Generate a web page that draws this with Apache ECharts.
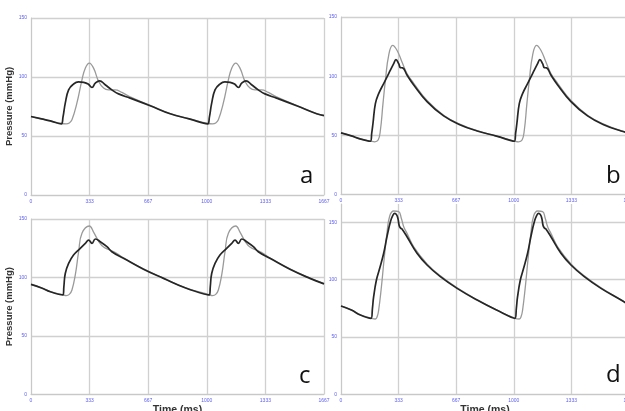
<!DOCTYPE html>
<html><head><meta charset="utf-8">
<script src="https://cdn.jsdelivr.net/npm/echarts@6/dist/echarts.min.js"></script>
<style>html,body{margin:0;padding:0;background:#fff}#c{width:625px;height:411px}</style>
</head><body><div id="c"></div>
<script>
// Tick labels
const xTickLabels = ['0', '333', '667', '1000', '1333', '1667'];
const yTickValues = [0, 50, 100, 150];
const panelLetters = ['a', 'b', 'c', 'd'];
const panelYMax = [150, 150, 150, 166];

// Panel a: [time ms, pressure mmHg]
const aGrey = [[0,66.5],[60,64.5],[110,62.8],[172,60.6],[200,60.2],[218,61],[233,63.7],[261,77.8],[290,97.6],[309,107.5],[332,111.8],[356,107.5],[385,96.2],[413,90.6],[441,89.1],[479,89.1],[517,86.9],[564,83.2],[678,76],[792,69],[900,64.6],[1005,60.6],
  [1033,60.2],[1051,61],[1066,63.7],[1094,77.8],[1123,97.6],[1142,107.5],[1165,111.8],[1189,107.5],[1218,96.2],[1246,90.6],[1274,89.1],[1312,89.1],[1350,86.9],[1397,83.2],[1511,76],[1625,69],[1667,67.4]];
const aBlack = [[0,66.5],[60,64.5],[110,62.8],[172,60.3],[182,66],[195,77.8],[214,89.1],[242,94],[270,95.8],[300,95.4],[325,94],[347,91.1],[366,94.8],[390,96.8],[422,93.4],[460,89.1],[498,85.7],[564,82.1],[678,75.6],[792,68.8],[900,64.5],
  [1005,60.3],[1015,66],[1028,77.8],[1047,89.1],[1075,94],[1103,95.8],[1133,95.4],[1158,94],[1180,91.1],[1199,94.8],[1223,96.8],[1255,93.4],[1293,89.1],[1331,85.7],[1397,82.1],[1511,75.6],[1625,68.8],[1667,67.2]];

// Panel b
const bGrey = [[0,52.1],[60,49.5],[110,47],[170,45.2],[195,44.5],[215,46],[228,54.3],[243,76.8],[257,96.5],[276,117.6],[299,126],[324,121.9],[353,112],[382,102.2],[421,94],[498,79.5],[594,67],[691,59.2],[788,53.9],[900,49.4],[1003,45.2],
  [1028,44.5],[1048,46],[1061,54.3],[1076,76.8],[1090,96.5],[1109,117.6],[1132,126],[1157,121.9],[1186,112],[1215,102.2],[1254,94],[1331,79.5],[1427,67],[1524,59.2],[1621,53.9],[1667,52.2]];
const bBlack = [[0,52.1],[60,49.5],[110,47],[170,45],[178,52],[185,60],[199,76.8],[218,85.2],[247,93.7],[276,102.2],[305,110.6],[318,114],[334,110.6],[344,107.2],[357,107],[382,101],[421,92.6],[498,78.5],[594,66.4],[691,58.8],[788,53.7],[900,49.3],
  [1003,45],[1011,52],[1018,60],[1032,76.8],[1051,85.2],[1080,93.7],[1109,102.2],[1138,110.6],[1151,114],[1167,110.6],[1177,107.2],[1190,107],[1215,101],[1254,92.6],[1331,78.5],[1427,66.4],[1524,58.8],[1621,53.7],[1667,52]];

// Panel c
const cGrey = [[0,94.1],[60,91],[110,87.8],[180,85.3],[200,84.5],[218,85.5],[233,89.3],[252,102.1],[271,122],[290,137.7],[332,144],[356,138.8],[385,130.9],[413,126],[451,123.3],[489,120.5],[526,116.8],[640,107.3],[754,99.4],[880,91.1],[1013,85.3],
  [1033,84.5],[1051,85.5],[1066,89.3],[1085,102.1],[1104,122],[1123,137.7],[1165,144],[1189,138.8],[1218,130.9],[1246,126],[1284,123.3],[1322,120.5],[1359,116.8],[1473,107.3],[1587,99.4],[1667,94.7]];
const cBlack = [[0,94.1],[60,91],[110,87.8],[182,85],[187,92],[195,103.4],[214,112],[242,119.2],[280,124.9],[309,129.2],[328,132],[347,129.2],[366,132.9],[394,130.6],[432,126.3],[460,122],[526,116.4],[640,107],[754,99.2],[880,91],
  [1015,85],[1020,92],[1028,103.4],[1047,112],[1075,119.2],[1113,124.9],[1142,129.2],[1161,132],[1180,129.2],[1199,132.9],[1227,130.6],[1265,126.3],[1293,122],[1359,116.4],[1473,107],[1587,99.2],[1667,94.5]];

// Panel d
const dGrey = [[0,77.2],[60,73.6],[112,69.3],[172,66.5],[199,65.7],[210,68],[218,73.5],[232,91],[251,120],[266,140.4],[282,155.5],[305,159.9],[334,159.3],[349,153.5],[363,146.2],[382,140.4],[421,128.7],[498,113.8],[575,103.3],[672,92.8],[788,82.4],[900,73.6],[1005,66.5],
  [1032,65.7],[1043,68],[1051,73.5],[1065,91],[1084,120],[1099,140.4],[1115,155.5],[1138,159.9],[1167,159.3],[1182,153.5],[1196,146.2],[1215,140.4],[1254,128.7],[1331,113.8],[1408,103.3],[1505,92.8],[1621,82.4],[1667,78.2]];
const dBlack = [[0,77],[60,73.5],[112,69.2],[174,66.3],[182,75],[189,85.1],[205,99.7],[224,109.9],[247,123],[266,137.4],[286,150.5],[300,156],[311,157.8],[322,156.5],[330,153],[337,147],[345,145],[353,144.2],[382,137.4],[440,123],[498,112.8],[575,102.6],[672,92.4],[788,82.2],[900,73.5],
  [1007,66.3],[1015,75],[1022,85.1],[1038,99.7],[1057,109.9],[1080,123],[1099,137.4],[1119,150.5],[1133,156],[1144,157.8],[1155,156.5],[1163,153],[1170,147],[1178,145],[1186,144.2],[1215,137.4],[1273,123],[1331,112.8],[1408,102.6],[1505,92.4],[1621,82.2],[1667,78]];

const greySeries = [aGrey, bGrey, cGrey, dGrey];
const blackSeries = [aBlack, bBlack, cBlack, dBlack];

const grids = [
  {left: 31, top: 18, width: 293, height: 177},
  {left: 341, top: 17, width: 288, height: 177.5},
  {left: 31, top: 219, width: 293, height: 175.3},
  {left: 341, top: 204, width: 288, height: 190.3}
];
const xStep = 1667 / 5;
const tickColor = '#5d5df2';
const gridColor = '#d0d0d0';

const xAxes = grids.map((g, i) => ({
  type: 'value', gridIndex: i, min: 0, max: 1667, interval: xStep,
  axisLine: {show: true, lineStyle: {color: '#c8c8c8', width: 1}},
  axisTick: {show: false},
  splitLine: {show: true, lineStyle: {color: gridColor, width: 1.3}},
  axisLabel: {color: tickColor, fontSize: 5, margin: 4, fontFamily: 'Liberation Sans', hideOverlap: false,
    formatter: v => xTickLabels[Math.round(v / xStep)]},
  name: i >= 2 ? 'Time (ms)' : '', nameLocation: 'middle', nameGap: 10.5,
  nameTextStyle: {color: '#333', fontSize: 10.5, fontFamily: 'Liberation Sans', fontWeight: 'bold'}
}));
const yAxes = grids.map((g, i) => ({
  type: 'value', gridIndex: i, min: 0, max: panelYMax[i], interval: 50,
  axisLine: {show: true, lineStyle: {color: '#c8c8c8', width: 1}},
  axisTick: {show: false},
  splitLine: {show: true, showMaxLine: i !== 3, lineStyle: {color: gridColor, width: 1.3}},
  axisLabel: {color: tickColor, fontSize: 5, margin: 4, fontFamily: 'Liberation Sans', showMaxLabel: i !== 3,
    formatter: v => (yTickValues.indexOf(v) >= 0 ? String(v) : '')},
  name: (i === 0 || i === 2) ? 'Pressure (mmHg)' : '', nameLocation: 'middle', nameGap: -1,
  nameTextStyle: {color: '#333', fontSize: 9.5, fontFamily: 'Liberation Sans', fontWeight: 'bold'}
}));

const series = [];
for (let i = 0; i < 4; i++) {
  series.push({type: 'line', xAxisIndex: i, yAxisIndex: i, data: greySeries[i], showSymbol: false,
    smooth: 0.45, lineStyle: {color: '#9a9a9a', width: 1.3}, z: 2, silent: true});
  series.push({type: 'line', xAxisIndex: i, yAxisIndex: i, data: blackSeries[i], showSymbol: false,
    smooth: 0.45, lineStyle: {color: '#262626', width: 1.7}, z: 3, silent: true});
}

const letterPos = [[307, 183], [613, 183], [306, 383], [613, 382]];
const graphic = panelLetters.map((t, i) => ({
  type: 'text', left: letterPos[i][0] - 7, top: letterPos[i][1] - 19,
  style: {text: t, fontSize: 24, fontFamily: 'Open Sans', fill: '#111'}, z: 10
}));

const chart = echarts.init(document.getElementById('c'), null, {renderer: 'canvas'});
chart.setOption({
  animation: false,
  backgroundColor: '#ffffff',
  grid: grids.map(g => Object.assign({containLabel: false, outerBoundsMode: 'none'}, g)),
  xAxis: xAxes, yAxis: yAxes, series: series, graphic: graphic
});
</script></body></html>
